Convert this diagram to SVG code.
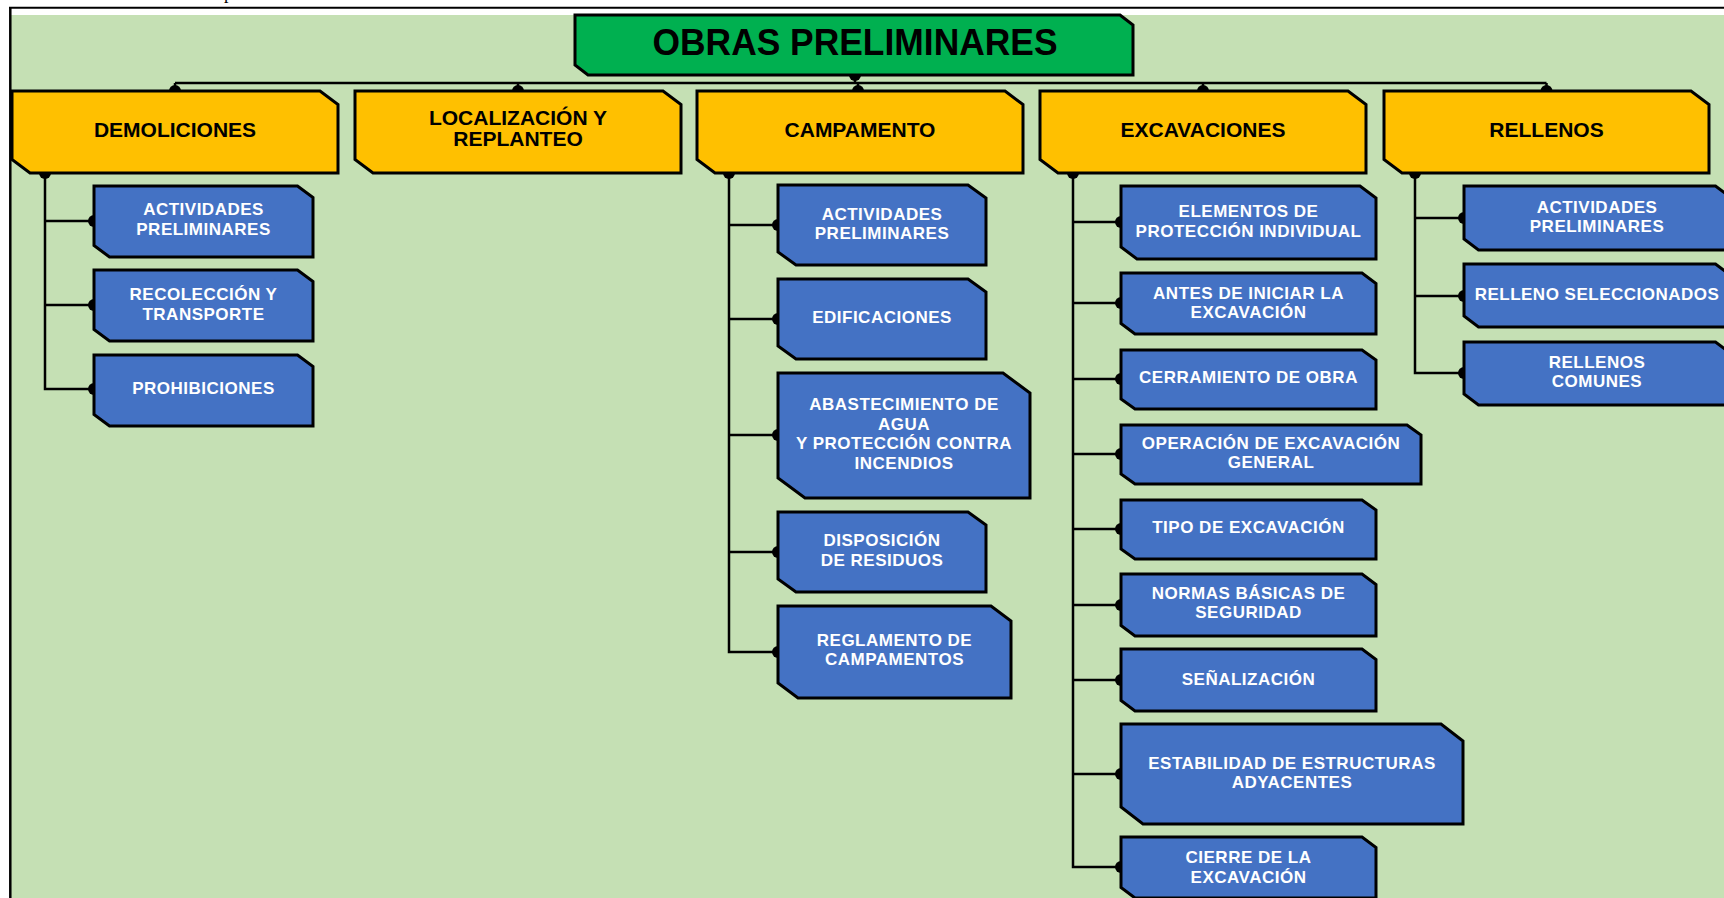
<svg xmlns="http://www.w3.org/2000/svg" width="1724" height="898" viewBox="0 0 1724 898">
<style>
.frame{fill:#C5E0B4}
.root{fill:#00B050;stroke:#000;stroke-width:3;stroke-linejoin:miter}
.l1{fill:#FFC000;stroke:#000;stroke-width:3}
.l2{fill:#4472C4;stroke:#000;stroke-width:3}
.tr{font-family:"Liberation Sans",Arial,sans-serif;font-weight:bold;font-size:37px;fill:#000;text-anchor:middle}
.t1{font-family:"Liberation Sans",Arial,sans-serif;font-weight:bold;font-size:21px;fill:#000;text-anchor:middle}
.t2{font-family:"Liberation Sans",Arial,sans-serif;font-weight:bold;font-size:17px;fill:#fff;text-anchor:middle;letter-spacing:0.5px}
.con{fill:none;stroke:#000;stroke-width:2.5}
.dot{fill:#000}
</style>
<rect x="0" y="0" width="1724" height="898" fill="#fff"/>
<rect class="frame" x="11" y="15" width="1713" height="883"/>
<line x1="9" y1="7.7" x2="1724" y2="7.7" stroke="#000" stroke-width="2"/>
<line x1="10.3" y1="7" x2="10.3" y2="898" stroke="#000" stroke-width="2.5"/>
<text x="224" y="-1" font-family="Liberation Serif,serif" font-size="18" fill="#000">p</text>

<g id="connectors">
<path class="con" d="M855,75 V83 M175,83 H1546.5 M175,83 V91 M518,83 V91 M858,83 V91 M1203,83 V91 M1546.5,83 V91"/>
<path class="con" d="M45,173 V389 H94 M45,221 H94 M45,305 H94"/>
<path class="con" d="M729,173 V652 H778 M729,225 H778 M729,319 H778 M729,435 H778 M729,552 H778"/>
<path class="con" d="M1073,173 V867 H1121 M1073,222 H1121 M1073,303 H1121 M1073,379 H1121 M1073,454 H1121 M1073,529 H1121 M1073,605 H1121 M1073,680 H1121 M1073,774 H1121"/>
<path class="con" d="M1415,173 V373 H1464 M1415,218 H1464 M1415,296 H1464"/>
<g class="dot">
<circle cx="855" cy="75" r="6"/>
<circle cx="175" cy="91" r="6"/><circle cx="518" cy="91" r="6"/><circle cx="858" cy="91" r="6"/><circle cx="1203" cy="91" r="6"/><circle cx="1546.5" cy="91" r="6"/>
<circle cx="45" cy="173" r="6"/><circle cx="729" cy="173" r="6"/><circle cx="1073" cy="173" r="6"/><circle cx="1415" cy="173" r="6"/>
<circle cx="94" cy="221" r="6"/><circle cx="94" cy="305" r="6"/><circle cx="94" cy="389" r="6"/>
<circle cx="778" cy="225" r="6"/><circle cx="778" cy="319" r="6"/><circle cx="778" cy="435" r="6"/><circle cx="778" cy="552" r="6"/><circle cx="778" cy="652" r="6"/>
<circle cx="1121" cy="222" r="6"/><circle cx="1121" cy="303" r="6"/><circle cx="1121" cy="379" r="6"/><circle cx="1121" cy="454" r="6"/><circle cx="1121" cy="529" r="6"/><circle cx="1121" cy="605" r="6"/><circle cx="1121" cy="680" r="6"/><circle cx="1121" cy="774" r="6"/><circle cx="1121" cy="867" r="6"/>
<circle cx="1464" cy="218" r="6"/><circle cx="1464" cy="296" r="6"/><circle cx="1464" cy="373" r="6"/>
</g>
</g>

<g id="root">
<polygon class="root" points="575,15 1120,15 1133,25 1133,75 588,75 575,65"/>
<text class="tr" x="855" y="55" textLength="405" lengthAdjust="spacingAndGlyphs">OBRAS PRELIMINARES</text>
</g>

<g id="demoliciones">
<polygon class="l1" points="12,91 320,91 338,104.5 338,173 30,173 12,159.5"/>
<text class="t1" x="175" y="137">DEMOLICIONES</text>
</g>
<g id="localizacion">
<polygon class="l1" points="355,91 663,91 681,104.5 681,173 373,173 355,159.5"/>
<text class="t1" x="518" y="125">LOCALIZACIÓN Y</text>
<text class="t1" x="518" y="146">REPLANTEO</text>
</g>
<g id="campamento">
<polygon class="l1" points="697,91 1005,91 1023,104.5 1023,173 715,173 697,159.5"/>
<text class="t1" x="860" y="137">CAMPAMENTO</text>
</g>
<g id="excavaciones">
<polygon class="l1" points="1040,91 1348,91 1366,104.5 1366,173 1058,173 1040,159.5"/>
<text class="t1" x="1203" y="137">EXCAVACIONES</text>
</g>
<g id="rellenos">
<polygon class="l1" points="1384,91 1691,91 1709,104.5 1709,173 1402,173 1384,159.5"/>
<text class="t1" x="1546.5" y="137">RELLENOS</text>
</g>

<g id="dem-actividades">
<polygon class="l2" points="94,186 297.5,186 313,197.5 313,257 109.5,257 94,245.5"/>
<text class="t2" x="203.5" y="215">ACTIVIDADES</text>
<text class="t2" x="203.5" y="235">PRELIMINARES</text>
</g>
<g id="dem-recoleccion">
<polygon class="l2" points="94,270 297.5,270 313,281.5 313,341 109.5,341 94,329.5"/>
<text class="t2" x="203.5" y="300">RECOLECCIÓN Y</text>
<text class="t2" x="203.5" y="319.5">TRANSPORTE</text>
</g>
<g id="dem-prohibiciones">
<polygon class="l2" points="94,355 297.5,355 313,366.5 313,426 109.5,426 94,414.5"/>
<text class="t2" x="203.5" y="394">PROHIBICIONES</text>
</g>

<g id="cam-actividades">
<polygon class="l2" points="778,185 968,185 986,198 986,265 796,265 778,252"/>
<text class="t2" x="882" y="220">ACTIVIDADES</text>
<text class="t2" x="882" y="239">PRELIMINARES</text>
</g>
<g id="cam-edificaciones">
<polygon class="l2" points="778,279 968,279 986,292 986,359 796,359 778,346"/>
<text class="t2" x="882" y="323">EDIFICACIONES</text>
</g>
<g id="cam-abastecimiento">
<polygon class="l2" points="778,373 1003,373 1030,393 1030,498 805,498 778,478"/>
<text class="t2" x="904" y="410">ABASTECIMIENTO DE</text>
<text class="t2" x="904" y="430">AGUA</text>
<text class="t2" x="904" y="449">Y PROTECCIÓN CONTRA</text>
<text class="t2" x="904" y="469">INCENDIOS</text>
</g>
<g id="cam-disposicion">
<polygon class="l2" points="778,512 968,512 986,525 986,592 796,592 778,579"/>
<text class="t2" x="882" y="546">DISPOSICIÓN</text>
<text class="t2" x="882" y="566">DE RESIDUOS</text>
</g>
<g id="cam-reglamento">
<polygon class="l2" points="778,606 991,606 1011,621 1011,698 798,698 778,683"/>
<text class="t2" x="894.5" y="646">REGLAMENTO DE</text>
<text class="t2" x="894.5" y="665">CAMPAMENTOS</text>
</g>

<g id="exc-elementos">
<polygon class="l2" points="1121,186 1360,186 1376,198 1376,259 1137,259 1121,247"/>
<text class="t2" x="1248.5" y="217">ELEMENTOS DE</text>
<text class="t2" x="1248.5" y="237">PROTECCIÓN INDIVIDUAL</text>
</g>
<g id="exc-antes">
<polygon class="l2" points="1121,273 1362,273 1376,283.5 1376,334 1135,334 1121,323.5"/>
<text class="t2" x="1248.5" y="299">ANTES DE INICIAR LA</text>
<text class="t2" x="1248.5" y="318">EXCAVACIÓN</text>
</g>
<g id="exc-cerramiento">
<polygon class="l2" points="1121,350 1362,350 1376,360 1376,409 1135,409 1121,399"/>
<text class="t2" x="1248.5" y="383">CERRAMIENTO DE OBRA</text>
</g>
<g id="exc-operacion">
<polygon class="l2" points="1121,425 1407,425 1421,435 1421,484 1135,484 1121,474"/>
<text class="t2" x="1271" y="449">OPERACIÓN DE EXCAVACIÓN</text>
<text class="t2" x="1271" y="468">GENERAL</text>
</g>
<g id="exc-tipo">
<polygon class="l2" points="1121,500 1362,500 1376,510 1376,559 1135,559 1121,549"/>
<text class="t2" x="1248.5" y="533">TIPO DE EXCAVACIÓN</text>
</g>
<g id="exc-normas">
<polygon class="l2" points="1121,574 1362,574 1376,584.5 1376,636 1135,636 1121,625.5"/>
<text class="t2" x="1248.5" y="599">NORMAS BÁSICAS DE</text>
<text class="t2" x="1248.5" y="618">SEGURIDAD</text>
</g>
<g id="exc-senalizacion">
<polygon class="l2" points="1121,649 1362,649 1376,659.5 1376,711 1135,711 1121,700.5"/>
<text class="t2" x="1248.5" y="685">SEÑALIZACIÓN</text>
</g>
<g id="exc-estabilidad">
<polygon class="l2" points="1121,724 1441,724 1463,741 1463,824 1143,824 1121,807"/>
<text class="t2" x="1292" y="769">ESTABILIDAD DE ESTRUCTURAS</text>
<text class="t2" x="1292" y="788">ADYACENTES</text>
</g>
<g id="exc-cierre">
<polygon class="l2" points="1121,837 1362,837 1376,847.5 1376,898 1135,898 1121,887.5"/>
<text class="t2" x="1248.5" y="863">CIERRE DE LA</text>
<text class="t2" x="1248.5" y="883">EXCAVACIÓN</text>
</g>

<g id="rel-actividades">
<polygon class="l2" points="1464,186 1715.5,186 1730,197 1730,250 1478.5,250 1464,239"/>
<text class="t2" x="1597" y="213">ACTIVIDADES</text>
<text class="t2" x="1597" y="232">PRELIMINARES</text>
</g>
<g id="rel-seleccionados">
<polygon class="l2" points="1464,264 1715.5,264 1730,275 1730,327 1478.5,327 1464,316"/>
<text class="t2" x="1597" y="300">RELLENO SELECCIONADOS</text>
</g>
<g id="rel-comunes">
<polygon class="l2" points="1464,342 1715.5,342 1730,353 1730,405 1478.5,405 1464,394"/>
<text class="t2" x="1597" y="368">RELLENOS</text>
<text class="t2" x="1597" y="387">COMUNES</text>
</g>
</svg>
